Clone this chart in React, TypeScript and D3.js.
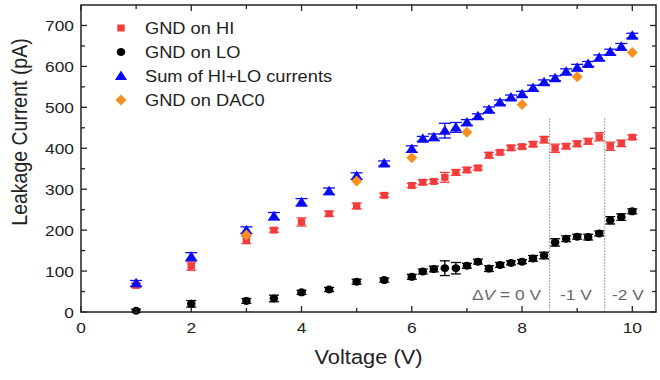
import * as d3 from 'd3';
import { FC, ReactNode } from 'react';

// voltages where HI, LO and the sum were measured
const voltage = [1, 2, 3, 3.5, 4, 4.5, 5, 5.5, 6, 6.2, 6.4, 6.6, 6.8, 7, 7.2, 7.4, 7.6, 7.8, 8, 8.2, 8.4, 8.6, 8.8, 9, 9.2, 9.4, 9.6, 9.8, 10];
const gndHi = [65, 112, 176, 200, 220, 240, 259, 285, 309, 317, 319, 329, 341, 347, 352, 383, 390, 401, 404, 410, 421, 400, 405, 411, 417, 428, 405, 412, 427];
const gndHiErr = [5, 10, 9, 5, 10, 6, 7, 5, 5, 6, 5, 12, 7, 6, 5, 7, 5, 6, 5, 6, 8, 10, 6, 7, 7, 10, 10, 8, 5];
const gndLo = [3, 20, 27, 33, 48, 55, 74, 78, 86, 99, 105, 107, 107, 113, 123, 106, 115, 120, 123, 131, 138, 170, 179, 184, 183, 192, 224, 232, 246];
const gndLoErr = [4, 8, 6, 8, 5, 5, 6, 5, 6, 6, 7, 18, 14, 6, 6, 7, 6, 5, 5, 7, 8, 9, 7, 6, 7, 6, 9, 8, 6];
const sumHiLo = [70, 135, 200, 234, 268, 295, 332, 363, 398, 423, 427, 443, 451, 463, 478, 494, 512, 524, 532, 547, 561, 571, 587, 597, 606, 621, 635, 648, 675];
const sumErr = [7, 10, 8, 9, 9, 8, 8, 6, 8, 6, 8, 18, 12, 7, 6, 7, 6, 6, 7, 7, 6, 6, 7, 8, 6, 7, 7, 8, 6];
const dacVoltage = [3, 5, 6, 7, 8, 9, 10];
const gndDac0 = [188, 320, 377, 439, 507, 575, 634];

const legendNames = ['GND on HI', 'GND on LO', 'Sum of HI+LO currents', 'GND on DAC0'];
const colors = ['#f43c3c', '#000000', '#0a0af5', '#f7901e'];

const xTicks = [0, 2, 4, 6, 8, 10];
const yTicks = [0, 100, 200, 300, 400, 500, 600, 700];
const steps = [8.5, 9.5];

const width = 660;
const height = 380;
const margin = { top: 5, right: 4, bottom: 68, left: 81 };

const font = 'Liberation Sans, Arial, sans-serif';
// the source picture is a bit wider than tall, text looks stretched sideways
const stretch = 1.12;

const T: FC<{ x: number; y: number; size: number; anchor?: string; fill?: string; rot?: boolean; children: ReactNode }> = ({
  x,
  y,
  size,
  anchor = 'start',
  fill = '#222',
  rot = false,
  children,
}) => (
  <text
    transform={`translate(${x},${y}) scale(${stretch},1)${rot ? ' rotate(-90)' : ''}`}
    textAnchor={anchor}
    fontSize={size}
    fill={fill}
  >
    {children}
  </text>
);

const Marker: FC<{ kind: number; x: number; y: number }> = ({ kind, x, y }) => {
  const c = colors[kind];
  if (kind === 0) return <rect x={x - 3.7} y={y - 3.5} width={7.4} height={7} fill={c} />;
  if (kind === 1) return <ellipse cx={x} cy={y} rx={4.3} ry={4} fill={c} />;
  if (kind === 2) return <path d={`M${x},${y - 5.5}L${x + 6},${y + 4}L${x - 6},${y + 4}Z`} fill={c} />;
  return <path d={`M${x},${y - 5.5}L${x + 5.5},${y}L${x},${y + 5.5}L${x - 5.5},${y}Z`} fill={c} />;
};

const App: FC = () => {
  const x = d3.scaleLinear().domain([0, 10.43]).range([margin.left, width - margin.right]);
  const y = d3.scaleLinear().domain([0, 750]).range([height - margin.bottom, margin.top]);
  const x0 = x.range()[0];
  const x1 = x.range()[1];
  const y0 = y.range()[0];
  const y1 = y.range()[1];

  const series = [
    { vals: gndHi, err: gndHiErr, cap: 5 },
    { vals: gndLo, err: gndLoErr, cap: 5 },
    { vals: sumHiLo, err: sumErr, cap: 6 },
  ];

  const xMinor = d3.range(1, 11, 2);
  const yMinor = d3.range(50, 750, 100);

  return (
    <svg width={width} height={height} style={{ position: 'absolute', left: 0, top: 0, background: '#fff' }} fontFamily={font}>
      {/* error bars + markers */}
      {series.map((s, k) => (
        <g key={k}>
          {voltage.map((v, i) => {
            const cx = x(v);
            const ya = y(s.vals[i] + s.err[i]);
            const yb = y(s.vals[i] - s.err[i]);
            return (
              <g key={i} stroke={colors[k]} strokeWidth={1.3}>
                <line x1={cx} x2={cx} y1={ya} y2={yb} />
                <line x1={cx - s.cap} x2={cx + s.cap} y1={ya} y2={ya} />
                <line x1={cx - s.cap} x2={cx + s.cap} y1={yb} y2={yb} />
              </g>
            );
          })}
        </g>
      ))}
      {series.map((s, k) => (
        <g key={'m' + k}>
          {voltage.map((v, i) => (
            <Marker key={i} kind={k} x={x(v)} y={y(s.vals[i])} />
          ))}
        </g>
      ))}
      {dacVoltage.map((v, i) => (
        <Marker key={'d' + i} kind={3} x={x(v)} y={y(gndDac0[i])} />
      ))}

      {/* step markers */}
      {steps.map((s) => (
        <line key={s} x1={x(s)} x2={x(s)} y1={y(473)} y2={y0} stroke="#888" strokeWidth={1} strokeDasharray="1.5,1.5" />
      ))}
      <T x={472} y={300} size={15.5} fill="#666">
        Δ<tspan fontStyle="italic">V</tspan> = 0 V
      </T>
      <T x={560} y={300} size={15.5} fill="#666">-1 V</T>
      <T x={612} y={300} size={15.5} fill="#666">-2 V</T>

      {/* frame and ticks */}
      <rect x={x0} y={y1} width={x1 - x0} height={y0 - y1} fill="none" stroke="#222" strokeWidth={1.5} />
      <g stroke="#222" strokeWidth={1.3}>
        {xTicks.map((t) => (
          <g key={t}>
            <line x1={x(t)} x2={x(t)} y1={y0} y2={y0 - 6} />
            <line x1={x(t)} x2={x(t)} y1={y1} y2={y1 + 6} />
          </g>
        ))}
        {xMinor.map((t) => (
          <g key={t}>
            <line x1={x(t)} x2={x(t)} y1={y0} y2={y0 - 4} />
            <line x1={x(t)} x2={x(t)} y1={y1} y2={y1 + 4} />
          </g>
        ))}
        {yTicks.map((t) => (
          <g key={t}>
            <line x1={x0} x2={x0 + 6} y1={y(t)} y2={y(t)} />
            <line x1={x1} x2={x1 - 6} y1={y(t)} y2={y(t)} />
          </g>
        ))}
        {yMinor.map((t) => (
          <g key={t}>
            <line x1={x0} x2={x0 + 4} y1={y(t)} y2={y(t)} />
            <line x1={x1} x2={x1 - 4} y1={y(t)} y2={y(t)} />
          </g>
        ))}
      </g>
      {xTicks.map((t) => (
        <T key={t} x={x(t)} y={y0 + 21} size={15.5} anchor="middle">{t}</T>
      ))}
      {yTicks.map((t) => (
        <T key={t} x={x0 - 7} y={y(t) + 5.5} size={15.5} anchor="end">{t}</T>
      ))}
      <T x={(x0 + x1) / 2} y={364} size={19.5} anchor="middle">Voltage (V)</T>
      <T x={27} y={132} size={19.5} anchor="middle" rot>Leakage Current (pA)</T>

      {/* legend */}
      {legendNames.map((n, i) => (
        <g key={n}>
          <Marker kind={i} x={121} y={28 + i * 24} />
          <T x={145} y={28 + i * 24 + 6} size={16.3}>{n}</T>
        </g>
      ))}
    </svg>
  );
};

export default App;
